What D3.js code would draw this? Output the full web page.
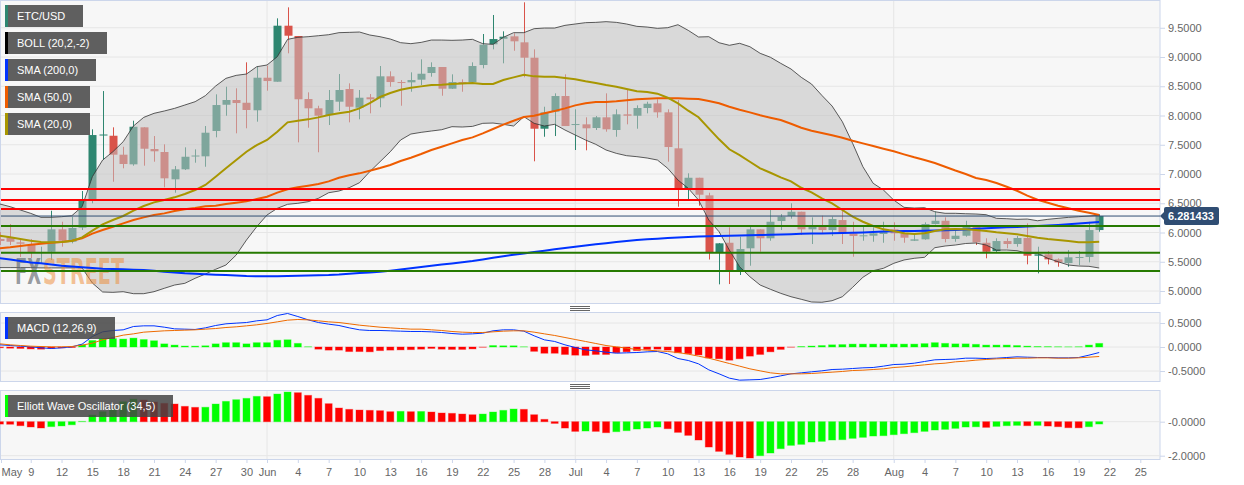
<!DOCTYPE html>
<html>
<head>
<meta charset="utf-8">
<script src="https://cdn.jsdelivr.net/npm/d3@7"></script>
<style>
	body { margin: 0; background: #fff; }
	svg { display: block; }
	text { font-family: "Liberation Sans", Arial, sans-serif; }
</style>
</head>
<body>
<div id="chart"></div>
<script>
// daily values, one line per month: May 6 .. May 31, Jun, Jul, Aug 1 .. Aug 21
var firstDay = Date.UTC(2019, 4, 6);

var opens = [
	5.889,5.918,5.832,5.786,5.649,5.671,6.054,5.842,6.082,6.555,7.658,7.654,7.330,7.165,7.798,7.427,7.376,6.909,7.080,7.299,7.302,7.735,8.184,8.265,8.218,8.089,
	8.646,8.577,9.535,9.359,8.282,8.123,8.008,8.236,8.453,8.133,8.311,8.294,8.670,8.572,8.567,8.612,8.726,8.829,8.458,8.572,8.572,8.863,9.217,9.312,9.353,9.251,8.988,7.774,8.065,8.333,
	7.842,7.849,7.786,7.969,7.752,8.020,7.996,8.128,8.208,8.054,7.439,6.743,6.936,6.635,5.661,5.825,5.359,5.730,6.054,5.901,6.196,6.282,6.355,6.054,6.099,6.042,6.213,5.986,5.940,5.945,5.974,
	6.054,5.986,5.859,5.883,6.145,6.201,5.889,5.945,6.099,5.825,5.683,5.854,5.803,5.906,5.603,5.627,5.541,5.478,5.569,5.581,6.042];
var closes = [
	5.854,5.842,5.808,5.666,5.666,6.054,5.859,6.077,6.555,7.666,7.675,7.330,7.171,7.808,7.432,7.388,6.926,7.080,7.295,7.316,7.706,8.179,8.265,8.213,8.094,8.646,
	8.589,9.535,9.364,8.277,8.123,7.996,8.265,8.436,8.150,8.304,8.277,8.670,8.572,8.555,8.606,8.714,8.829,8.458,8.572,8.560,8.846,9.210,9.307,9.347,9.268,8.988,7.774,8.054,8.333,7.820,
	7.854,7.781,7.969,7.764,8.020,7.996,8.128,8.201,8.054,7.461,6.743,6.936,6.646,5.666,5.815,5.359,5.718,6.054,5.901,6.184,6.270,6.355,6.054,6.099,6.042,6.230,5.986,5.940,5.952,5.986,6.013,
	5.986,5.911,5.883,6.145,6.201,5.889,5.945,6.099,5.832,5.671,5.854,5.803,5.906,5.603,5.627,5.541,5.490,5.576,5.581,6.042,6.281];
var highs = [
	6.008,6.145,5.871,5.889,5.757,6.372,6.184,6.270,6.709,7.764,8.418,7.798,7.466,7.911,7.798,7.649,7.507,7.136,7.456,7.422,7.820,8.362,8.492,8.465,8.909,8.834,
	8.851,9.661,9.849,9.359,8.396,8.167,8.436,8.709,8.550,8.436,8.367,8.846,8.755,8.606,8.738,8.960,8.909,8.829,8.704,8.618,8.909,9.393,9.718,9.439,9.405,9.935,9.131,8.150,8.379,8.704,
	8.106,7.969,7.991,8.379,8.106,8.453,8.174,8.236,8.277,8.106,8.265,7.012,6.936,6.680,5.820,6.089,5.928,6.111,6.054,6.384,6.316,6.499,6.355,6.259,6.287,6.270,6.384,6.184,6.099,6.089,6.184,
	6.174,6.030,5.974,6.174,6.355,6.259,6.042,6.201,6.099,5.901,5.901,5.901,5.940,6.157,5.757,5.683,5.558,5.700,5.683,6.184,6.311];
var lows = [
	5.786,5.786,5.581,5.564,5.478,5.530,5.757,5.815,6.042,6.499,7.239,6.868,7.097,7.142,7.142,7.210,6.772,6.680,7.068,7.193,7.124,7.627,7.996,7.695,7.781,7.894,
	8.424,8.577,9.063,7.541,7.791,7.371,7.837,8.077,7.883,7.935,8.037,8.140,8.492,8.167,8.406,8.521,8.663,8.338,8.453,8.406,8.550,8.806,9.131,8.892,9.107,8.653,7.217,7.637,7.649,7.820,
	7.410,7.405,7.752,7.723,7.637,7.849,7.774,8.037,7.962,7.210,6.441,6.567,6.458,5.538,5.114,5.119,5.273,5.432,5.671,5.859,6.042,6.236,5.957,5.803,5.986,5.940,5.803,5.586,5.859,5.842,5.825,
	5.859,5.825,5.854,5.877,6.137,5.832,5.842,5.928,5.786,5.559,5.671,5.730,5.757,5.456,5.302,5.456,5.415,5.415,5.444,5.490,6.013];

var bollUpper = [
	6.487,6.441,6.384,6.327,6.259,6.259,6.270,6.287,6.441,6.954,7.239,7.381,7.552,7.820,7.968,8.037,8.077,8.122,8.179,8.236,8.339,8.504,8.635,8.686,8.709,8.834,
	8.863,9.005,9.302,9.336,9.347,9.364,9.381,9.416,9.421,9.427,9.376,9.347,9.307,9.245,9.228,9.250,9.290,9.290,9.285,9.290,9.302,9.228,9.216,9.336,9.416,9.416,9.484,9.495,9.495,9.541,
	9.564,9.587,9.592,9.604,9.592,9.564,9.524,9.512,9.490,9.501,9.552,9.455,9.342,9.347,9.244,9.200,9.234,9.176,9.063,8.995,8.892,8.795,8.653,8.538,8.345,8.162,7.894,7.524,7.124,6.841,6.726,
	6.555,6.430,6.418,6.424,6.355,6.328,6.328,6.321,6.316,6.304,6.242,6.236,6.225,6.230,6.201,6.225,6.242,6.259,6.270,6.282,6.294];
var bollLower = [
	5.400,5.400,5.400,5.400,5.395,5.395,5.395,5.395,5.393,5.136,4.983,4.977,4.988,4.954,4.954,4.988,5.046,5.102,5.131,5.217,5.290,5.371,5.444,5.615,5.871,6.099,
	6.299,6.413,6.482,6.499,6.526,6.584,6.680,6.709,6.766,6.851,7.040,7.210,7.381,7.581,7.683,7.712,7.735,7.757,7.809,7.803,7.814,7.866,7.871,7.849,7.820,7.980,7.866,7.820,7.849,7.752,
	7.666,7.581,7.507,7.410,7.353,7.313,7.296,7.273,7.239,7.097,6.897,6.755,6.555,6.213,6.013,5.700,5.415,5.244,5.102,5.029,4.960,4.902,4.858,4.812,4.807,4.834,4.902,5.063,5.234,5.347,5.388,
	5.473,5.530,5.559,5.576,5.740,5.769,5.786,5.812,5.820,5.786,5.700,5.700,5.689,5.644,5.644,5.559,5.500,5.444,5.427,5.422,5.393];
var sma20 = [
	5.946,5.917,5.889,5.860,5.837,5.832,5.837,5.854,5.917,6.031,6.139,6.213,6.282,6.373,6.453,6.515,6.555,6.601,6.658,6.726,6.812,6.954,7.097,7.239,7.381,7.495,
	7.581,7.723,7.883,7.911,7.934,7.968,8.008,8.037,8.065,8.122,8.213,8.316,8.384,8.441,8.475,8.498,8.521,8.527,8.538,8.549,8.555,8.538,8.538,8.606,8.652,8.698,8.669,8.663,8.663,8.641,
	8.618,8.584,8.555,8.521,8.493,8.453,8.413,8.401,8.373,8.304,8.208,8.082,7.970,7.781,7.593,7.422,7.324,7.210,7.097,7.022,6.943,6.875,6.765,6.687,6.584,6.499,6.384,6.270,6.184,6.111,6.054,
	6.025,5.986,5.974,5.986,6.025,6.054,6.059,6.054,6.042,6.025,6.003,5.986,5.969,5.940,5.911,5.889,5.871,5.854,5.832,5.832,5.842];
var sma50 = [
	5.729,5.746,5.769,5.792,5.809,5.826,5.837,5.860,5.900,5.980,6.042,6.099,6.156,6.213,6.259,6.299,6.327,6.367,6.396,6.418,6.447,6.458,6.487,6.510,6.532,6.572,
	6.612,6.681,6.738,6.772,6.800,6.829,6.874,6.937,6.977,7.011,7.057,7.102,7.153,7.222,7.279,7.342,7.410,7.467,7.524,7.581,7.626,7.695,7.769,7.843,7.911,7.974,7.997,8.037,8.077,8.122,
	8.173,8.208,8.230,8.230,8.242,8.259,8.276,8.287,8.293,8.293,8.293,8.287,8.282,8.247,8.208,8.150,8.099,8.054,8.003,7.962,7.923,7.859,7.791,7.740,7.701,7.661,7.620,7.569,7.524,7.478,7.432,
	7.388,7.336,7.285,7.239,7.188,7.124,7.059,7.000,6.931,6.897,6.846,6.783,6.714,6.629,6.560,6.509,6.458,6.413,6.372,6.338,6.299];
var sma200 = [
	5.559,5.538,5.512,5.487,5.473,5.453,5.432,5.418,5.405,5.393,5.381,5.376,5.371,5.364,5.359,5.347,5.330,5.316,5.302,5.294,5.285,5.278,5.273,5.265,5.256,5.253,
	5.251,5.253,5.256,5.260,5.266,5.270,5.273,5.282,5.295,5.307,5.318,5.330,5.348,5.367,5.388,5.410,5.430,5.451,5.471,5.492,5.512,5.540,5.567,5.595,5.620,5.642,5.666,5.689,5.712,5.735,
	5.755,5.776,5.798,5.817,5.836,5.854,5.871,5.883,5.895,5.907,5.916,5.923,5.930,5.936,5.942,5.945,5.948,5.952,5.957,5.962,5.967,5.972,5.977,5.981,5.983,5.986,5.991,5.996,6.001,6.008,6.015,
	6.020,6.024,6.027,6.030,6.034,6.039,6.042,6.053,6.063,6.073,6.082,6.089,6.095,6.104,6.111,6.119,6.128,6.140,6.152,6.165,6.179];

var macdLine = [
	.045,.031,.017,.003,-.017,-.031,-.017,.003,.059,.219,.316,.344,.358,.427,.441,.441,.413,.378,.372,.365,.399,.448,.483,.497,.510,.545,
	.566,.656,.698,.635,.566,.510,.476,.448,.399,.358,.344,.344,.337,.330,.323,.323,.316,.302,.281,.267,.274,.288,.337,.358,.358,.330,.233,.149,.115,.045,
	-.010,-.059,-.080,-.108,-.128,-.122,-.115,-.101,-.094,-.142,-.240,-.281,-.351,-.476,-.559,-.649,-.691,-.684,-.677,-.642,-.601,-.559,-.538,-.517,-.497,-.469,-.462,-.448,-.434,-.427,-.399,
	-.365,-.358,-.337,-.302,-.267,-.260,-.253,-.233,-.233,-.240,-.233,-.219,-.205,-.212,-.219,-.219,-.226,-.226,-.219,-.170,-.115];
var macdSignal = [
	.066,.045,.031,.017,.010,.003,.003,.010,.038,.080,.149,.198,.247,.274,.309,.323,.337,.344,.351,.358,.372,.385,.406,.420,.441,.462,
	.490,.524,.559,.573,.566,.545,.524,.510,.483,.455,.434,.413,.399,.385,.372,.372,.358,.344,.323,.309,.302,.302,.316,.330,.337,.337,.309,.274,.240,.198,
	.156,.115,.073,.031,.003,-.024,-.052,-.066,-.080,-.094,-.115,-.149,-.191,-.233,-.288,-.344,-.399,-.455,-.497,-.538,-.559,-.559,-.559,-.552,-.538,-.524,-.510,-.490,-.483,-.469,-.455,
	-.427,-.413,-.392,-.372,-.351,-.337,-.309,-.295,-.274,-.260,-.247,-.240,-.233,-.233,-.226,-.226,-.233,-.233,-.226,-.212,-.198];
var macdHist = [
	-.015,-.025,-.03,-.04,-.045,-.03,-.02,-.01,.045,.135,.175,.175,.165,.185,.155,.13,.065,.04,.02,.018,.025,.065,.09,.09,.065,.09,
	.09,.14,.15,.075,.005,-.045,-.065,-.065,-.095,-.095,-.1,-.075,-.065,-.06,-.055,-.045,-.03,-.045,-.05,-.05,-.04,-.005,.03,.025,.025,.004,-.09,-.13,-.13,-.155,
	-.17,-.175,-.155,-.155,-.12,-.10,-.075,-.05,-.045,-.065,-.12,-.14,-.165,-.23,-.245,-.275,-.245,-.19,-.155,-.10,-.05,-.004,.01,.02,.03,.045,.05,.06,.06,.06,.06,
	.06,.06,.06,.07,.09,.075,.065,.065,.055,.04,.04,.04,.03,.018,.01,.008,.005,.003,.005,.04,.075];
var ewo = [
	-.14,-.15,-.235,-.31,-.37,-.29,-.25,-.18,.02,.39,.59,.725,1.176,1.333,1.275,1.157,1.078,1.039,.902,.843,.85,1.039,1.196,1.294,1.373,1.49,
	1.47,1.627,1.745,1.706,1.549,1.373,1.059,.804,.725,.686,.667,.647,.588,.608,.588,.60,.569,.51,.49,.45,.41,.45,.569,.667,.745,.725,.41,.137,-.1,-.373,
	-.569,-.549,-.569,-.647,-.588,-.529,-.431,-.373,-.314,-.412,-.627,-.804,-1.078,-1.49,-1.745,-1.922,-2.078,-2.137,-2.0,-1.843,-1.588,-1.392,-1.333,-1.196,-1.157,-1.078,-1.059,-.98,-.92,-.843,-.824,
	-.765,-.706,-.647,-.569,-.49,-.451,-.392,-.314,-.30,-.333,-.275,-.235,-.216,-.235,-.216,-.255,-.294,-.353,-.36,-.294,-.137];

var redLevels = [6.744, 6.556, 6.402];
var greenLevels = [6.111, 5.655, 5.342];
var lastPrice = 6.281433;

var priceTicks = [5, 5.5, 6, 6.5, 7, 7.5, 8, 8.5, 9, 9.5];
var macdTicks = [0.5, 0, -0.5];
var macdTickLabels = ["0.5000", "0.0000", "-0.5000"];
var ewoTicks = [0, -2];
var ewoTickLabels = ["-0.0000", "-2.0000"];

var mayDays = [6, 9, 12, 15, 18, 21, 24, 27, 30];
var monthDays = [1, 4, 7, 10, 13, 16, 19, 22, 25, 28];
var augDays = [1, 4, 7, 10, 13, 16, 19, 22, 25];

var legendLabels = ["ETC/USD", "BOLL (20,2,-2)", "SMA (200,0)", "SMA (50,0)", "SMA (20,0)"];
var legendColors = ["#2e8670", "#000000", "#0033ff", "#ee5c00", "#a89600"];

var wid = 1244,
	heig = 485,
	axisX = 1160;

var days = opens.map(function(v, i) { return new Date(firstDay + i * 864e5); });

var gridColor = "#e6e6e6",
	borderColor = "#ccd6eb",
	upColor = "#2e8670",
	downColor = "#d9534a";

var x = d3.scaleUtc()
	.domain([new Date(firstDay), new Date(Date.UTC(2019, 7, 25))])
	.range([-0.1, 1140.3]);

var yMain = d3.scaleLinear().domain([5, 9.5]).range([291, 27.75]);
var yMacd = d3.scaleLinear().domain([-0.5, 0.5]).range([371, 323]);
var yEwo = d3.scaleLinear().domain([-2, 0]).range([455.7, 421.7]);

var svg = d3.select("#chart").append("svg")
	.attr("width", wid)
	.attr("height", heig);

var monthStarts = [new Date(Date.UTC(2019, 5, 1)), new Date(Date.UTC(2019, 6, 1)), new Date(Date.UTC(2019, 7, 1))];

// panel background, grid, y axis
function drawPanel(name, top, bottom, scale, ticks, labels) {
	svg.append("clipPath").attr("id", "clip-" + name)
		.append("rect")
		.attr("x", 0)
		.attr("y", top)
		.attr("width", axisX)
		.attr("height", bottom - top);

	svg.append("rect")
		.attr("x", 0.5)
		.attr("y", top + 0.5)
		.attr("width", axisX - 0.5)
		.attr("height", bottom - top)
		.attr("fill", "#f7f7f7")
		.attr("stroke", borderColor);

	svg.selectAll("line.grid-h-" + name).data(ticks).enter().append("line")
		.attr("class", "grid-h-" + name)
		.attr("x1", 1).attr("x2", axisX)
		.attr("y1", function(d) { return scale(d); })
		.attr("y2", function(d) { return scale(d); })
		.attr("stroke", gridColor);

	svg.selectAll("line.grid-v-" + name).data(monthStarts).enter().append("line")
		.attr("class", "grid-v-" + name)
		.attr("x1", function(d) { return x(d); })
		.attr("x2", function(d) { return x(d); })
		.attr("y1", top + 1).attr("y2", bottom)
		.attr("stroke", gridColor);

	var axis = d3.axisRight(scale)
		.tickValues(ticks)
		.tickSize(5)
		.tickPadding(3)
		.tickFormat(function(d, i) { return labels ? labels[i] : d.toFixed(4); });

	var g = svg.append("g")
		.attr("transform", "translate(" + axisX + ",0)")
		.call(axis);
	g.select(".domain").remove();
	g.selectAll("line").attr("stroke", borderColor);
	g.selectAll("text").attr("fill", "#666").style("font-size", "11px");

	return svg.append("g").attr("clip-path", "url(#clip-" + name + ")");
}

function resizeHandle(y) {
	svg.selectAll(null).data([-2, 0, 2]).enter().append("line")
		.attr("x1", 570).attr("x2", 590)
		.attr("y1", function(d) { return y + d + 0.5; })
		.attr("y2", function(d) { return y + d + 0.5; })
		.attr("stroke", "#666");
}

function sameLine(values, scale) {
	return d3.line()
		.x(function(d, i) { return x(days[i]); })
		.y(function(d) { return scale(d); })(values);
}

// main panel
var main = drawPanel("main", 0, 303, yMain, priceTicks);

var candles = main.selectAll("g.candle").data(days).enter().append("g")
	.attr("class", "candle");

candles.append("line")
	.attr("x1", function(d) { return Math.round(x(d)) + 0.5; })
	.attr("x2", function(d) { return Math.round(x(d)) + 0.5; })
	.attr("y1", function(d, i) { return yMain(highs[i]); })
	.attr("y2", function(d, i) { return yMain(lows[i]); })
	.attr("stroke", function(d, i) { return closes[i] >= opens[i] ? upColor : downColor; });

candles.append("rect")
	.attr("x", function(d) { return Math.round(x(d)) - 3.5; })
	.attr("width", 8)
	.attr("y", function(d, i) { return yMain(Math.max(opens[i], closes[i])); })
	.attr("height", function(d, i) { return Math.max(1, Math.abs(yMain(opens[i]) - yMain(closes[i]))); })
	.attr("fill", function(d, i) { return closes[i] >= opens[i] ? upColor : downColor; });

//Bollinger band goes over the candles and fades them
var band = d3.area()
	.x(function(d, i) { return x(days[i]); })
	.y0(function(d, i) { return yMain(bollLower[i]); })
	.y1(function(d) { return yMain(d); });

main.append("path")
	.attr("d", band(bollUpper))
	.attr("fill", "rgb(193,193,193)")
	.attr("fill-opacity", 0.55);

[bollUpper, bollLower].forEach(function(vals) {
	main.append("path")
		.attr("d", sameLine(vals, yMain))
		.attr("fill", "none")
		.attr("stroke", "#333")
		.attr("stroke-width", 0.8);
});

//Watermark, see-through, over the band. Squeezed sideways to fit its box
function watermark(label, left, boxWidth, color, alpha) {
	var t = main.append("text")
		.attr("fill", color)
		.attr("fill-opacity", alpha)
		.style("font-family", "'DejaVu Sans Condensed', 'DejaVu Sans', sans-serif")
		.style("font-weight", "bold")
		.style("font-size", "36px")
		.text(label);
	var squeeze = boxWidth / t.node().getComputedTextLength();
	t.attr("transform", "translate(" + left + ",284) scale(" + squeeze + ",1)");
}
watermark("FX", 15, 26, "#5f666e", 0.65);
watermark("STREET", 43, 81, "#ee8a33", 0.5);

[[sma200, "#0033ff"], [sma50, "#ee5c00"], [sma20, "#a89600"]].forEach(function(s) {
	main.append("path")
		.attr("d", sameLine(s[0], yMain))
		.attr("fill", "none")
		.attr("stroke", s[1])
		.attr("stroke-width", 2);
});

main.selectAll("line.redLevel").data(redLevels).enter().append("line")
	.attr("class", "redLevel")
	.attr("x1", 1).attr("x2", axisX)
	.attr("y1", function(d) { return yMain(d); })
	.attr("y2", function(d) { return yMain(d); })
	.attr("stroke", "#ff0000")
	.attr("stroke-width", 2);

main.selectAll("line.greenLevel").data(greenLevels).enter().append("line")
	.attr("class", "greenLevel")
	.attr("x1", 1).attr("x2", axisX)
	.attr("y1", function(d) { return yMain(d); })
	.attr("y2", function(d) { return yMain(d); })
	.attr("stroke", "#267a00")
	.attr("stroke-width", 2);

main.append("line")
	.attr("x1", 1).attr("x2", axisX)
	.attr("y1", yMain(lastPrice)).attr("y2", yMain(lastPrice))
	.attr("stroke", "#2f4d73");

// last price tag
var tagY = yMain(lastPrice);
svg.append("path")
	.attr("d", "M1160," + tagY + "l4,-4v-3a2,2 0 0 1 2,-2h51a2,2 0 0 1 2,2v14a2,2 0 0 1 -2,2h-51a2,2 0 0 1 -2,-2v-3z")
	.attr("fill", "#2f4d73");
svg.append("text")
	.attr("x", 1168)
	.attr("y", tagY + 4)
	.attr("fill", "#fff")
	.style("font-size", "11px")
	.style("font-weight", "bold")
	.text(lastPrice.toFixed(6));

resizeHandle(308);

// MACD panel
var macd = drawPanel("macd", 312, 381, yMacd, macdTicks, macdTickLabels);

function drawBars(panel, values, scale, colorOf) {
	panel.selectAll("rect.bar").data(values).enter().append("rect")
		.attr("class", "bar")
		.attr("x", function(d, i) { return x(days[i]) - 3.5; })
		.attr("width", 7)
		.attr("y", function(d) { return Math.min(scale(d), scale(0)); })
		.attr("height", function(d) { return Math.abs(scale(d) - scale(0)); })
		.attr("fill", colorOf)
		.attr("stroke", colorOf)
		.attr("stroke-opacity", 0.35);
}

drawBars(macd, macdHist, yMacd, function(d) { return d >= 0 ? "#00ff00" : "#ff0000"; });

macd.append("path")
	.attr("d", sameLine(macdLine, yMacd))
	.attr("fill", "none")
	.attr("stroke", "#0033ff");
macd.append("path")
	.attr("d", sameLine(macdSignal, yMacd))
	.attr("fill", "none")
	.attr("stroke", "#ee6a00");

resizeHandle(386);

// Elliott wave panel
var ewoPanel = drawPanel("ewo", 390, 459, yEwo, ewoTicks, ewoTickLabels);

drawBars(ewoPanel, ewo, yEwo, function(d, i) {
	return i > 0 && d >= ewo[i - 1] ? "#00ff00" : "#ff0000";
});

// date axis
function monthTicks(month, list) {
	return list.map(function(d) { return new Date(Date.UTC(2019, month, d)); });
}
var dateTicks = monthTicks(4, mayDays)
	.concat(monthTicks(5, monthDays), monthTicks(6, monthDays), monthTicks(7, augDays));

var xAxis = d3.axisBottom(x)
	.tickValues(dateTicks)
	.tickSize(4)
	.tickPadding(5)
	.tickFormat(function(d, i) {
		return (i == 0 || d.getUTCDate() == 1) ? d3.utcFormat("%b")(d) : d.getUTCDate();
	});

var xg = svg.append("g")
	.attr("transform", "translate(0,459)")
	.call(xAxis);
xg.select(".domain").remove();
xg.selectAll("line").attr("stroke", borderColor);
xg.selectAll("text").attr("fill", "#666").style("font-size", "11px");
xg.selectAll(".tick").filter(function(d, i) { return i == 0; })
	.attr("transform", "translate(1.5,0)")
	.select("text").attr("text-anchor", "start");

// indicator tags
function legendBox(label, color, top, width, opacity) {
	svg.append("rect")
		.attr("x", 8).attr("y", top)
		.attr("width", width - 8).attr("height", 22)
		.attr("fill", "#444")
		.attr("fill-opacity", opacity);
	svg.append("rect")
		.attr("x", 5).attr("y", top)
		.attr("width", 3).attr("height", 22)
		.attr("fill", color);
	svg.append("text")
		.attr("x", 17).attr("y", top + 15)
		.attr("fill", "#fff")
		.style("font-size", "11px")
		.text(label);
}

var legendWidths = [83, 107, 96, 90, 90];
legendLabels.forEach(function(label, i) {
	legendBox(label, legendColors[i], 5 + i * 27, legendWidths[i], 0.85);
});
legendBox("MACD (12,26,9)", "#0033ff", 317, 115, 0.85);
legendBox("Elliott Wave Oscillator (34,5)", "#00ff00", 395, 173, 0.85);
</script>
</body>
</html>
